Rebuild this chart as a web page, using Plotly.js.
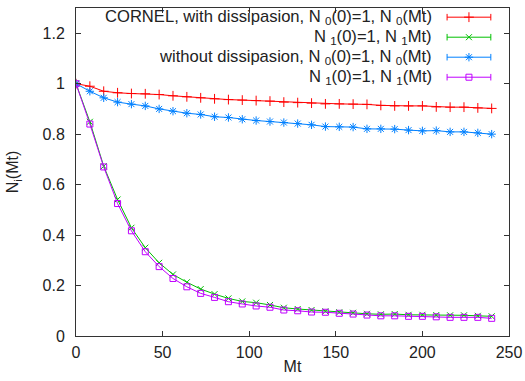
<!DOCTYPE html>
<html>
<head>
<meta charset="utf-8">
<script src="https://cdn.plot.ly/plotly-3.0.1.min.js"></script>
<style>html,body{margin:0;padding:0;background:#fff;} #plot{width:525px;height:381px;}</style>
</head>
<body>
<div id="plot"></div>
<script>
// Data
const mt = [0, 8, 16, 24, 32, 40, 48, 56, 64, 72, 80, 88, 96, 104, 112, 120, 128, 136, 144, 152, 160, 168, 176, 184, 192, 200, 208, 216, 224, 232, 240];
const withDissN0 = [1.000, 0.990, 0.970, 0.964, 0.961, 0.960, 0.957, 0.952, 0.948, 0.944, 0.940, 0.937, 0.935, 0.933, 0.931, 0.927, 0.925, 0.923, 0.920, 0.920, 0.919, 0.918, 0.914, 0.912, 0.912, 0.912, 0.908, 0.907, 0.907, 0.904, 0.902];
const withDissN1 = [1.000, 0.849, 0.673, 0.541, 0.429, 0.350, 0.290, 0.244, 0.213, 0.186, 0.166, 0.149, 0.137, 0.132, 0.123, 0.112, 0.107, 0.103, 0.098, 0.094, 0.092, 0.088, 0.086, 0.087, 0.084, 0.084, 0.083, 0.082, 0.082, 0.080, 0.078];
const noDissN0 = [1.000, 0.970, 0.944, 0.927, 0.919, 0.912, 0.900, 0.891, 0.883, 0.878, 0.869, 0.866, 0.859, 0.854, 0.850, 0.846, 0.842, 0.837, 0.830, 0.829, 0.828, 0.821, 0.821, 0.820, 0.816, 0.813, 0.814, 0.809, 0.809, 0.805, 0.800];
const noDissN1 = [1.000, 0.840, 0.670, 0.525, 0.417, 0.334, 0.275, 0.228, 0.195, 0.169, 0.153, 0.136, 0.127, 0.119, 0.114, 0.103, 0.100, 0.095, 0.094, 0.090, 0.087, 0.083, 0.080, 0.080, 0.078, 0.078, 0.076, 0.074, 0.074, 0.074, 0.070];

const seriesNames = [
  "CORNEL, with dissipasion, N&#8197;<sub>0</sub>(0)=1, N&#8197;<sub>0</sub>(Mt)",
  "N&#8197;<sub>1</sub>(0)=1, N&#8197;<sub>1</sub>Mt)",
  "without dissipasion, N&#8197;<sub>0</sub>(0)=1, N&#8197;<sub>0</sub>(Mt)",
  "N&#8197;<sub>1</sub>(0)=1, N&#8197;<sub>1</sub>(Mt)"
];
const seriesValues = [withDissN0, withDissN1, noDissN0, noDissN1];
const colors = ["#ff0000", "#00c000", "#0080ff", "#c000ff"];
const symbols = ["cross-thin-open", "x-thin-open", "asterisk-open", "square-open"];
const markerSizes = [7, 6, 7, 6];

const FONT = "Liberation Sans, Arial, sans-serif";

const traces = seriesValues.map((vals, i) => ({
  type: "scatter",
  mode: "lines+markers",
  x: mt,
  y: vals,
  name: seriesNames[i],
  showlegend: false,
  line: {color: colors[i], width: 1},
  marker: {symbol: symbols[i], size: markerSizes[i], color: colors[i], line: {color: colors[i], width: 1}}
}));

// Custom legend (text right-aligned, sample on the right), gnuplot style
const legRowsY = [0.972, 0.911, 0.850, 0.789];
const legX0 = 0.857, legX1 = 0.958, legXm = 0.9075, legTextX = 0.826;
const annotations = [];
const shapes = [];
seriesNames.forEach((nm, i) => {
  annotations.push({xref: "paper", yref: "paper", x: legTextX, y: legRowsY[i], xanchor: "right", yanchor: "middle",
    text: nm, showarrow: false, font: {family: FONT, size: 16.6, color: "#222"}});
  shapes.push({type: "line", xref: "paper", yref: "paper", x0: legX0, x1: legX1, y0: legRowsY[i], y1: legRowsY[i], line: {color: colors[i], width: 1}});
  [legX0, legX1].forEach(xx => shapes.push({type: "line", xref: "paper", yref: "paper", x0: xx, x1: xx, y0: legRowsY[i] - 0.01, y1: legRowsY[i] + 0.01, line: {color: colors[i], width: 1}}));
  traces.push({type: "scatter", mode: "markers", xaxis: "x2", yaxis: "y2", x: [legXm], y: [legRowsY[i]], showlegend: false, hoverinfo: "skip",
    marker: {symbol: symbols[i], size: markerSizes[i], color: colors[i], line: {color: colors[i], width: 1}}});
});

const axisCommon = {
  showline: true, linecolor: "#333", linewidth: 1, mirror: "ticks",
  ticks: "inside", ticklen: 5, tickcolor: "#333", tickwidth: 1,
  showgrid: false, zeroline: false,
  tickfont: {family: FONT, size: 16, color: "#222"}
};

const layout = {
  width: 525, height: 381,
  margin: {l: 76, r: 16, t: 8, b: 45},
  paper_bgcolor: "#fff", plot_bgcolor: "#fff",
  font: {family: FONT, size: 16, color: "#222"},
  xaxis: Object.assign({}, axisCommon, {range: [0, 250], dtick: 50, tick0: 0, ticklabelstandoff: 2,
    title: {text: "Mt", standoff: 0, font: {size: 16, color: "#222"}}}),
  yaxis: Object.assign({}, axisCommon, {range: [0, 1.3], dtick: 0.2, tick0: 0, ticklabelstandoff: 7,
    title: {text: "N<sub>i</sub>(Mt)", standoff: 19, font: {size: 16, color: "#222"}}}),
  xaxis2: {overlaying: "x", range: [0, 1], visible: false, fixedrange: true},
  yaxis2: {overlaying: "y", range: [0, 1], visible: false, fixedrange: true},
  annotations: annotations,
  shapes: shapes
};

Plotly.newPlot("plot", traces, layout, {displayModeBar: false, staticPlot: true});
</script>
</body>
</html>
